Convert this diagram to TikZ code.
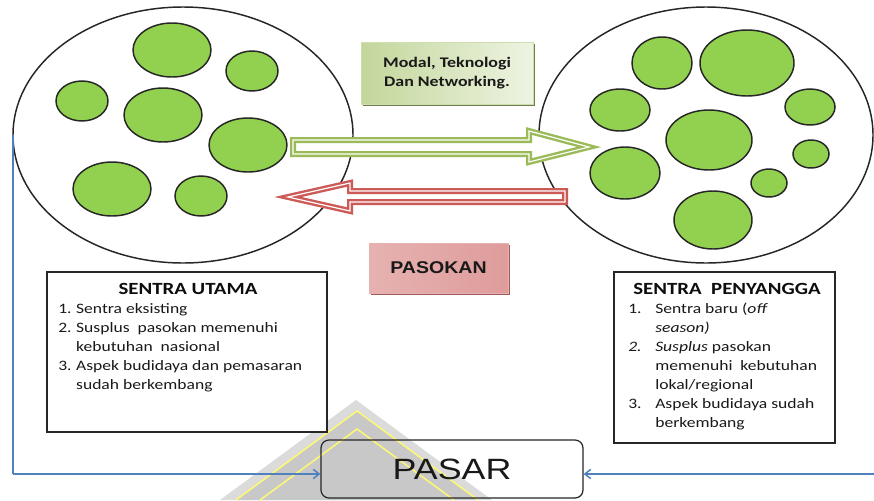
\documentclass[tikz,border=0pt]{standalone}
\usepackage{graphicx}
\usepackage{fontspec}
\setmainfont{Carlito}
\newfontfamily\arialfont{Liberation Sans}
\usetikzlibrary{shapes.geometric,arrows.meta,shadows}

\newdimen\px \px=0.75pt
\newcommand\hstretch[1]{\scalebox{1.22}[1]{#1}}

\definecolor{blobgreen}{HTML}{92D050}
\definecolor{arrowgreen}{HTML}{9BBB59}
\definecolor{arrowred}{HTML}{CC5A57}
\definecolor{linkblue}{HTML}{4F81BD}
\definecolor{modalleft}{HTML}{C3D69B}
\definecolor{modalright}{HTML}{EEF4E2}
\definecolor{pasokleft}{HTML}{E6B2B1}
\definecolor{pasokmid}{HTML}{F5E0E0}
\definecolor{pasokright}{HTML}{DE9C9B}

\tikzset{
  sentra/.style={ellipse, draw=black!85, line width=1.1pt, inner sep=0pt, outer sep=0pt},
  blob/.style={fill=blobgreen, draw=black!85, line width=1.1pt},
  blockarrow/.style={fill=white, draw=#1, double=white, double distance=1.2\px,
                     line width=2.4\px, line join=miter},
  infobox/.style={draw=black!85, line width=0.9pt, fill=white, inner sep=0pt},
  titletext/.style={inner sep=0pt, font=\fontsize{12.8}{15}\selectfont\bfseries, text=black!95},
  listtext/.style={inner sep=0pt, font=\fontsize{10.8}{14.25}\selectfont, text=black!90},
  bluelink/.style={draw=linkblue, line width=1.1pt},
  bluearrow/.style={bluelink, -{Straight Barb[length=4.5pt, width=7pt]}},
}

\begin{document}
\begin{tikzpicture}[x=0.75pt, y=-0.75pt]
\useasboundingbox[fill=white] (0,0) rectangle (874,500);

% faint chevron mark at the bottom centre
\fill[gray!28] (220,500) -- (356,400) -- (492,500) -- cycle;
\fill[gray!43] (236,500) -- (357,411) -- (478,500) -- cycle;
\draw[yellow!55, line width=1.5\px] (236,500) -- (357,411) -- (478,500);
\draw[yellow!55, line width=1.5\px] (260,500) -- (357,429) -- (454,500);

% the two production centres
\node[sentra, minimum width=340\px, minimum height=256\px] (utama) at (183,135) {};
\node[sentra, minimum width=334\px, minimum height=256\px] (penyangga) at (706,135) {};

% cultivation plots inside each centre
\foreach \cx/\cy/\rx/\ry in {172/50/39/27, 252/71/26/20, 82/101/26/20, 163/115/39/27,
                             248/145/39/27, 112/189/39/27, 201/196/26/20}
  \draw[blob] (\cx,\cy) ellipse [x radius=\rx\px, y radius=\ry\px];
\foreach \cx/\cy/\rx/\ry in {662/63/30/26, 747/63/47/33, 620/110/30/21, 810/107/25/18,
                             709/140/43/30, 811/154/18/14, 625/173/35/26, 769/183/18/14,
                             713/220/39/29}
  \draw[blob] (\cx,\cy) ellipse [x radius=\rx\px, y radius=\ry\px];

% flow arrows between the centres
\draw[blockarrow=arrowgreen] (293,140) -- (529,140) -- (529,131) -- (589,147)
   -- (529,162) -- (529,154) -- (293,154) -- cycle;
\draw[blockarrow=arrowred] (565,191) -- (350,191) -- (350,183) -- (288,197)
   -- (350,211) -- (350,202) -- (565,202) -- cycle;

% labels of the flows
\node[minimum width=172\px, minimum height=62\px, inner sep=0pt,
      left color=modalleft, right color=modalright, draw=modalleft!80!white,
      drop shadow={shadow xshift=1.3pt, shadow yshift=-1.3pt, fill=arrowgreen!55!black, opacity=0.85},
      font=\fontsize{11}{14.5}\selectfont\bfseries, text=black!90] (modal) at (447,73)
  {\hstretch{\begin{tabular}{@{}c@{}}Modal, Teknologi\\Dan Networking.\end{tabular}}};
\node[minimum width=139\px, minimum height=50\px, inner sep=0pt,
      left color=pasokleft, middle color=pasokmid, right color=pasokright, draw=pasokleft,
      drop shadow={shadow xshift=1.3pt, shadow yshift=-1.3pt, fill=arrowred!70!black, opacity=0.85},
      font=\arialfont\fontsize{12.75}{15}\selectfont\bfseries, text=black!90] (pasokan) at (438.5,268)
  {\scalebox{1.15}[1]{PASOKAN}};

% description boxes
\node[infobox, minimum width=280\px, minimum height=160\px] (utamabox) at (187,352) {};
\node[titletext, anchor=base] (utamatitle) at (188,294.5) {\hstretch{SENTRA UTAMA}};
\node[listtext, anchor=base west] (utamalist) at (58,313)
  {\hstretch{\begin{tabular}[t]{@{}p{11pt}@{}l@{}}
   1. & Sentra eksisting\\
   2. & Susplus\ \ pasokan memenuhi\\
      & kebutuhan\ \ nasional\\
   3. & Aspek budidaya dan pemasaran\\
      & sudah berkembang
   \end{tabular}}};

\node[infobox, minimum width=221\px, minimum height=171\px] (penyanggabox) at (724.5,357.5) {};
\node[titletext, anchor=base] (penyanggatitle) at (727,294.5) {\hstretch{SENTRA\ \ PENYANGGA}};
\node[listtext, anchor=base west] (penyanggalist) at (628,313)
  {\hstretch{\begin{tabular}[t]{@{}p{16.6pt}@{}l@{}}
   1. & Sentra baru (\textit{off}\\
      & \textit{season)}\\
   \textit{2.} & \textit{Susplus} pasokan\\
      & memenuhi\ \ kebutuhan\\
      & lokal/regional\\
   3. & Aspek budidaya sudah\\
      & berkembang
   \end{tabular}}};

% market
\node[draw=black!85, line width=0.9pt, rounded corners=8\px, minimum width=262\px,
      minimum height=58\px, inner sep=0pt, font=\arialfont\fontsize{22}{26}\selectfont,
      text=black!90] (pasar) at (452,469) {\hstretch{PASAR}};

% links to the market
\coordinate (lcorner) at (13,474);
\coordinate (rend) at (874,474);
\draw[bluelink] (utama.west) -- (lcorner);
\draw[bluearrow] (lcorner) -- (lcorner -| pasar.west);
\draw[bluearrow] (rend) -- (rend -| pasar.east);
\end{tikzpicture}
\end{document}
